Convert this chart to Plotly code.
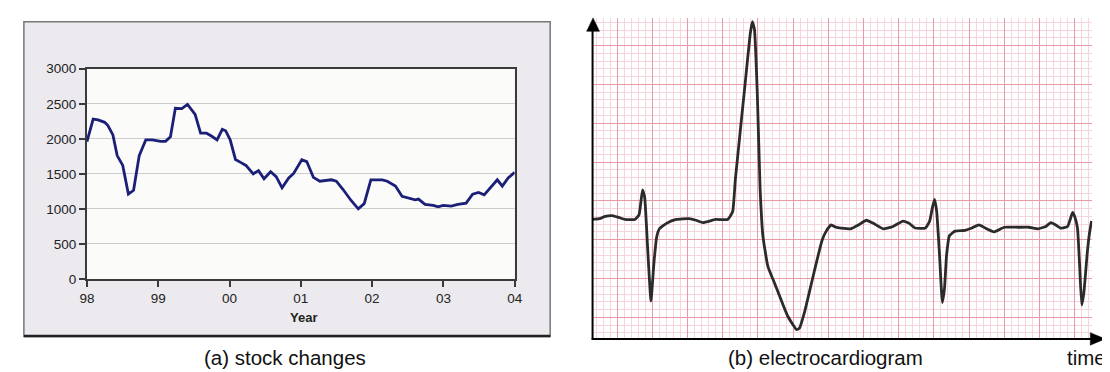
import plotly.graph_objects as go

W, H = 1110, 372

# ---------------- data: (a) stock changes ----------------
stock_year = [1998.00, 1998.087, 1998.156, 1998.249, 1998.294, 1998.364, 1998.424, 1998.502,
              1998.581, 1998.654, 1998.733, 1998.825, 1998.917, 1999.033, 1999.102, 1999.171,
              1999.240, 1999.331, 1999.410, 1999.517, 1999.594, 1999.677, 1999.746, 1999.825,
              1999.898, 1999.945, 2000.009, 2000.083, 2000.161, 2000.230, 2000.332, 2000.406,
              2000.484, 2000.576, 2000.654, 2000.737, 2000.830, 2000.899, 2001.014, 2001.083,
              2001.176, 2001.267, 2001.429, 2001.498, 2001.590, 2001.705, 2001.806, 2001.889,
              2001.982, 2002.143, 2002.213, 2002.327, 2002.420, 2002.489, 2002.604, 2002.650,
              2002.742, 2002.857, 2002.926, 2002.995, 2003.111, 2003.203, 2003.318, 2003.410,
              2003.493, 2003.572, 2003.664, 2003.756, 2003.826, 2003.908, 2004.000]
stock_value = [1960, 2280, 2270, 2235, 2190, 2055, 1760, 1620,
               1210, 1265, 1760, 1985, 1985, 1963, 1965, 2030,
               2435, 2430, 2490, 2350, 2080, 2080, 2040, 1985,
               2135, 2115, 1985, 1705, 1660, 1620, 1500, 1545,
               1430, 1530, 1460, 1300, 1440, 1505, 1700, 1675,
               1450, 1395, 1415, 1395, 1280, 1120, 1000, 1075,
               1415, 1415, 1395, 1325, 1180, 1165, 1130, 1140,
               1065, 1050, 1028, 1050, 1040, 1065, 1082, 1210,
               1235, 1200, 1300, 1415, 1325, 1440, 1520]
year_ticks = [1998, 1999, 2000, 2001, 2002, 2003, 2004]
year_labels = ["98", "99", "00", "01", "02", "03", "04"]
value_ticks = [0, 500, 1000, 1500, 2000, 2500, 3000]

# ---------------- data: (b) electrocardiogram (grid small-box units) ----------------
ecg_t = [-3.6, -2.5, -1.7, -0.7, 0.1, 1.1, 2.5, 3.1, 3.6, 3.9, 4.3, 4.8, 5.2, 5.6, 6.0,
         7.0, 8.4, 10.2, 11.2, 12.2, 14.0, 15.7, 16.4, 16.8, 18.2, 18.9, 19.2, 19.5, 19.9,
         20.3, 20.7, 21.4, 22.4, 24.2, 25.5, 25.9, 26.6, 28.0, 29.1, 29.7, 30.4, 31.1, 31.8,
         33.2, 34.3, 35.4, 36.4, 37.8, 39.2, 40.6, 41.5, 42.3, 43.8, 44.4, 44.8, 45.1, 45.4,
         45.8, 46.2, 46.5, 46.8, 47.2, 48.0, 49.4, 50.4, 51.4, 52.5, 53.5, 55.0, 57.0, 58.5,
         59.8, 60.9, 61.6, 62.3, 63.0, 64.0, 64.4, 64.7, 65.0, 65.4, 65.7, 66.0, 66.3, 66.8,
         67.1, 67.4]
ecg_v = [12.6, 12.7, 13.0, 13.1, 12.9, 12.6, 12.6, 13.2, 16.4, 15.5, 9.3, 2.1, 6.8, 10.3, 11.4,
         12.1, 12.6, 12.7, 12.5, 12.2, 12.6, 12.6, 13.6, 17.9, 30.3, 36.5, 38.1, 37.1, 29.0,
         16.7, 10.5, 6.6, 4.3, 0.2, -1.6, -1.4, 0.6, 5.9, 9.9, 11.1, 11.9, 11.6, 11.5,
         11.4, 11.9, 12.5, 12.1, 11.4, 11.7, 12.4, 12.1, 11.5, 11.5, 12.4, 14.2, 15.2, 13.6,
         8.0, 1.9, 3.7, 8.0, 10.5, 11.1, 11.2, 11.5, 11.9, 11.4, 11.0, 11.6, 11.6, 11.6,
         11.4, 11.7, 12.2, 11.9, 11.5, 11.7, 12.7, 13.5, 13.0, 11.5, 6.8, 1.6, 3.1, 8.4,
         10.8, 12.4]


def px(x):
    return x / W


def py(y):
    return 1 - y / H


FONT = "Liberation Sans, Arial, sans-serif"

fig = go.Figure()

fig.add_trace(go.Scatter(x=stock_year, y=stock_value, mode="lines",
                         line=dict(color="#1B1F78", width=2.8),
                         xaxis="x", yaxis="y", hoverinfo="skip", showlegend=False))

fig.add_trace(go.Scatter(x=ecg_t, y=ecg_v, mode="lines",
                         line=dict(color="#2B2B2B", width=2.8, shape="spline", smoothing=0.4),
                         xaxis="x2", yaxis="y2", hoverinfo="skip", showlegend=False))

shapes = [
    # grey chart frame of panel (a)
    dict(type="rect", xref="paper", yref="paper", x0=px(8), x1=px(542), y0=py(335), y1=py(7),
         fillcolor="#ECEAEE", line=dict(color="#777777", width=1.5), layer="below"),
    dict(type="line", xref="paper", yref="paper", x0=px(8), x1=px(542), y0=py(334.5), y1=py(334.5),
         line=dict(color="#222222", width=2.5), layer="below"),
    # plot area background of panel (a)
    dict(type="rect", xref="paper", yref="paper", x0=px(72), x1=px(506), y0=py(275), y1=py(56),
         fillcolor="#FBFCF9", line=dict(width=0), layer="below"),
    # ECG axes with arrows
    dict(type="line", xref="paper", yref="paper", x0=px(585), x1=px(585), y0=py(338), y1=py(14),
         line=dict(color="#000000", width=2)),
    dict(type="line", xref="paper", yref="paper", x0=px(584), x1=px(1092), y0=py(337.5), y1=py(337.5),
         line=dict(color="#000000", width=2)),
    dict(type="path", xref="paper", yref="paper",
         path=f"M {px(585.5)} {py(3)} L {px(579)} {py(17)} L {px(592)} {py(17)} Z",
         fillcolor="#000000", line=dict(color="#000000", width=0.5)),
    dict(type="path", xref="paper", yref="paper",
         path=f"M {px(1105)} {py(337.5)} L {px(1090)} {py(331)} L {px(1090)} {py(344)} Z",
         fillcolor="#000000", line=dict(color="#000000", width=0.5)),
]

annotations = [
    dict(text="<b>Year</b>", x=px(292), y=py(315), xref="paper", yref="paper",
         showarrow=False, xanchor="center", yanchor="middle",
         font=dict(family=FONT, size=13, color="#222222")),
    dict(text="(a) stock changes", x=px(273), y=py(357), xref="paper", yref="paper",
         showarrow=False, xanchor="center", yanchor="middle",
         font=dict(family=FONT, size=20.5, color="#111111")),
    dict(text="(b) electrocardiogram", x=px(821), y=py(357), xref="paper", yref="paper",
         showarrow=False, xanchor="center", yanchor="middle",
         font=dict(family=FONT, size=20.5, color="#111111")),
    dict(text="time", x=px(1086), y=py(357), xref="paper", yref="paper",
         showarrow=False, xanchor="center", yanchor="middle",
         font=dict(family=FONT, size=20.5, color="#111111")),
]

fig.update_layout(
    width=W, height=H,
    margin=dict(l=0, r=0, t=0, b=0),
    paper_bgcolor="#FFFFFF",
    plot_bgcolor="#FFFFFF",
    showlegend=False,
    shapes=shapes,
    annotations=annotations,
    xaxis=dict(domain=[px(72), px(506)], range=[1998, 2004],
               tickmode="array", tickvals=year_ticks, ticktext=year_labels,
               showgrid=False, zeroline=False,
               showline=True, linecolor="#3A3A3A", linewidth=1.8, mirror=True,
               ticks="outside", ticklen=6, tickwidth=1.5, tickcolor="#3A3A3A",
               tickfont=dict(family=FONT, size=13.5, color="#222222"), fixedrange=True),
    yaxis=dict(domain=[py(275), py(56)], range=[0, 3000],
               tickmode="array", tickvals=value_ticks,
               showgrid=True, gridcolor="#CDCDCD", gridwidth=1, zeroline=False,
               showline=True, linecolor="#3A3A3A", linewidth=1.8, mirror=True,
               ticks="outside", ticklen=6, tickwidth=1.5, tickcolor="#3A3A3A",
               tickfont=dict(family=FONT, size=13.5, color="#222222"), fixedrange=True),
    xaxis2=dict(domain=[px(585), px(1092)], range=[-3.5, 67.5], anchor="y2",
                tick0=0, dtick=5, showgrid=True, gridcolor="#E99AA8", gridwidth=1.3,
                minor=dict(tick0=0, dtick=1, showgrid=True, gridcolor="#F6D5DD", gridwidth=1),
                showticklabels=False, ticks="", zeroline=False, showline=False, fixedrange=True),
    yaxis2=dict(domain=[py(337), py(3)], range=[-2.72, 38.57], anchor="x2",
                tick0=0, dtick=5, showgrid=True, gridcolor="#E99AA8", gridwidth=1.3,
                minor=dict(tick0=0, dtick=1, showgrid=True, gridcolor="#F6D5DD", gridwidth=1),
                showticklabels=False, ticks="", zeroline=False, showline=False, fixedrange=True),
)

fig.write_html("out.html")
